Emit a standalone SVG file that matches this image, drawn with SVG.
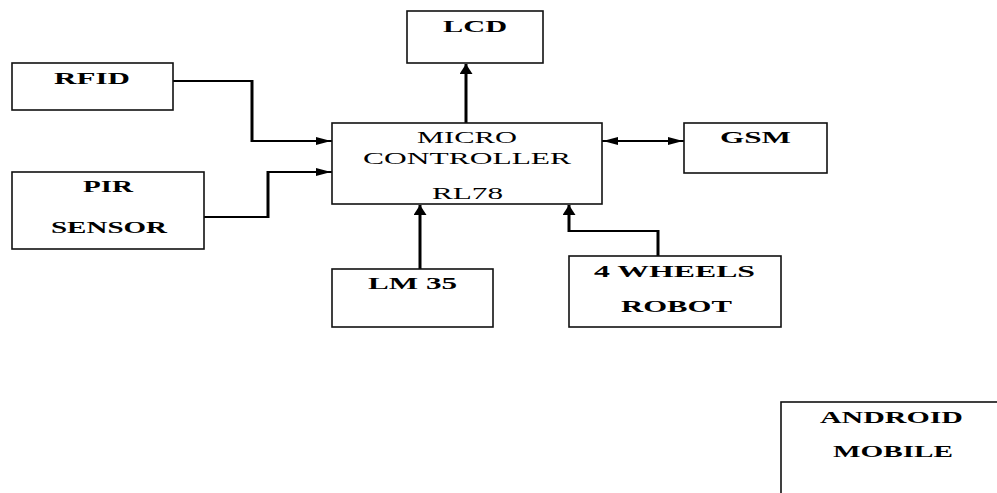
<svg xmlns="http://www.w3.org/2000/svg" width="997" height="493" viewBox="0 0 997 493">
<style>
.box{fill:#fff;stroke:#111;stroke-width:1.6}
.t{font-family:"Liberation Serif","Times New Roman",serif;font-size:17.5px;fill:#000}
.b{font-weight:bold}
.h{fill:none;stroke:#000;stroke-width:2;stroke-linecap:square}
.v{fill:none;stroke:#000;stroke-width:3;stroke-linecap:butt}
</style>
<defs>
<marker id="mh" viewBox="0 0 15 8" refX="15" refY="4" markerWidth="15" markerHeight="8" markerUnits="userSpaceOnUse" orient="auto-start-reverse">
<path d="M0,0 L15,4 L0,8 Z" fill="#000"/>
</marker>
<marker id="mv" viewBox="0 0 10 13" refX="10" refY="6.5" markerWidth="10" markerHeight="13" markerUnits="userSpaceOnUse" orient="auto">
<path d="M0,0 L10,6.5 L0,13 Z" fill="#000"/>
</marker>
</defs>
<rect width="997" height="493" fill="#fff"/>
<g id="connectors">
<path class="h" d="M173,81 H252"/>
<path class="v" d="M252,80 V142"/>
<path class="h" d="M252,141 H331" marker-end="url(#mh)"/>
<path class="h" d="M204,217 H268"/>
<path class="v" d="M268,218 V171"/>
<path class="h" d="M268,172 H331" marker-end="url(#mh)"/>
<path class="v" d="M466,123 V64" marker-end="url(#mv)"/>
<path class="h" d="M603,141 H683" marker-start="url(#mh)" marker-end="url(#mh)"/>
<path class="v" d="M420,269 V205" marker-end="url(#mv)"/>
<path class="v" d="M658,256 V230"/>
<path class="h" d="M658,231 H569"/>
<path class="v" d="M569,232 V205" marker-end="url(#mv)"/>
</g>
<g id="rfid">
<rect class="box" x="12" y="63" width="161" height="47"/>
<text class="t b" transform="translate(54,84) scale(1.75,1)" textLength="43.4" lengthAdjust="spacingAndGlyphs">RFID</text>
</g>
<g id="pir">
<rect class="box" x="12" y="172" width="192" height="77"/>
<text class="t b" transform="translate(83,192) scale(1.75,1)" textLength="28.6" lengthAdjust="spacingAndGlyphs">PIR</text>
<text class="t b" transform="translate(51,233) scale(1.75,1)" textLength="66.3" lengthAdjust="spacingAndGlyphs">SENSOR</text>
</g>
<g id="lcd">
<rect class="box" x="407" y="11" width="136" height="52"/>
<text class="t b" transform="translate(443,32) scale(1.75,1)" textLength="36.6" lengthAdjust="spacingAndGlyphs">LCD</text>
</g>
<g id="micro">
<rect class="box" x="332" y="123" width="270" height="81"/>
<text class="t" transform="translate(417,143) scale(1.75,1)" textLength="57.1" lengthAdjust="spacingAndGlyphs">MICRO</text>
<text class="t" transform="translate(363,164) scale(1.75,1)" textLength="118.9" lengthAdjust="spacingAndGlyphs">CONTROLLER</text>
<text class="t" transform="translate(432,199) scale(1.75,1)" textLength="40.6" lengthAdjust="spacingAndGlyphs">RL78</text>
</g>
<g id="gsm">
<rect class="box" x="684" y="123" width="143" height="50"/>
<text class="t b" transform="translate(720,143) scale(1.75,1)" textLength="40.6" lengthAdjust="spacingAndGlyphs">GSM</text>
</g>
<g id="lm35">
<rect class="box" x="332" y="269" width="161" height="58"/>
<text class="t b" transform="translate(368,289) scale(1.75,1)" textLength="50.9" lengthAdjust="spacingAndGlyphs">LM 35</text>
</g>
<g id="robot">
<rect class="box" x="569" y="256" width="212" height="71"/>
<text class="t b" transform="translate(594,277) scale(1.75,1)" textLength="92" lengthAdjust="spacingAndGlyphs">4 WHEELS</text>
<text class="t b" transform="translate(621,312) scale(1.75,1)" textLength="63.4" lengthAdjust="spacingAndGlyphs">ROBOT</text>
</g>
<g id="android">
<rect class="box" x="781" y="402" width="240" height="120"/>
<text class="t b" transform="translate(820,423) scale(1.75,1)" textLength="81.7" lengthAdjust="spacingAndGlyphs">ANDROID</text>
<text class="t b" transform="translate(833,457) scale(1.75,1)" textLength="68.6" lengthAdjust="spacingAndGlyphs">MOBILE</text>
</g>
</svg>
